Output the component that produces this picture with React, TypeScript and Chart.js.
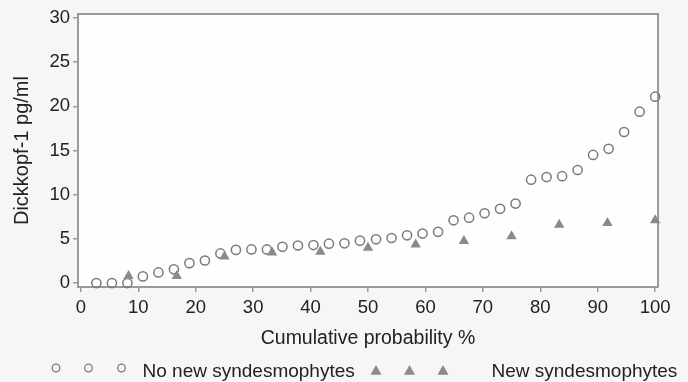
import React, { useEffect, useRef } from "react";
import { Chart, registerables } from "chart.js";

Chart.register(...registerables);

// ---- data ----
const noNewX = [
  2.7, 5.4, 8.1, 10.8, 13.5, 16.2, 18.9, 21.6, 24.3, 27.0, 29.7, 32.4, 35.1,
  37.8, 40.5, 43.2, 45.9, 48.6, 51.4, 54.1, 56.8, 59.5, 62.2, 64.9, 67.6, 70.3,
  73.0, 75.7, 78.4, 81.1, 83.8, 86.5, 89.2, 91.9, 94.6, 97.3, 100,
];
const noNewY = [
  0, 0, 0, 0.75, 1.2, 1.55, 2.25, 2.55, 3.35, 3.75, 3.8, 3.8, 4.1, 4.25, 4.3,
  4.45, 4.5, 4.8, 4.95, 5.1, 5.4, 5.6, 5.8, 7.1, 7.4, 7.9, 8.4, 9.0, 11.7, 12.0,
  12.1, 12.8, 14.5, 15.2, 17.1, 19.4, 21.1,
];
const newX = [8.3, 16.7, 25, 33.3, 41.7, 50, 58.3, 66.7, 75, 83.3, 91.7, 100];
const newY = [0.8, 0.8, 3.0, 3.45, 3.55, 4.0, 4.35, 4.75, 5.3, 6.6, 6.8, 7.1];

const xTickValues = [0, 10, 20, 30, 40, 50, 60, 70, 80, 90, 100];
const yTickValues = [0, 5, 10, 15, 20, 25, 30];

const seriesLabels = ["No new syndesmophytes", "New syndesmophytes"];
const xTitle = "Cumulative probability %";
const yTitle = "Dickkopf-1 pg/ml";

// ---- styles ----
const FONT = '"Liberation Sans", Arial, Helvetica, sans-serif';
const AXIS = "#9a9a9a";
const CIRCLE = "#7a7a7a";
const TRI = "#8a8a8a";
const TEXT = "#222222";

function drawCircle(ctx: CanvasRenderingContext2D, x: number, y: number, r: number) {
  ctx.beginPath();
  ctx.arc(x, y, r, 0, Math.PI * 2);
  ctx.stroke();
}
function drawTriangle(ctx: CanvasRenderingContext2D, x: number, y: number, r: number) {
  ctx.beginPath();
  for (let k = 0; k < 3; k++) {
    const a = (k * 2 * Math.PI) / 3;
    const px = x + Math.sin(a) * r;
    const py = y - Math.cos(a) * r;
    if (k === 0) ctx.moveTo(px, py);
    else ctx.lineTo(px, py);
  }
  ctx.closePath();
  ctx.fill();
}

const framePlugin = {
  id: "frame",
  beforeDraw(chart: any) {
    const { ctx, width, height, chartArea: a } = chart;
    ctx.save();
    ctx.fillStyle = "#f6f6f6";
    ctx.fillRect(0, 0, width, height);
    ctx.fillStyle = "#fefefe";
    ctx.fillRect(a.left, a.top, a.right - a.left, a.bottom - a.top);
    ctx.restore();
  },
  beforeDatasetsDraw(chart: any) {
    const { ctx, chartArea: a } = chart;
    ctx.save();
    ctx.strokeStyle = AXIS;
    ctx.lineWidth = 2;
    ctx.beginPath();
    ctx.moveTo(a.left, a.top);
    ctx.lineTo(a.right, a.top);
    ctx.lineTo(a.right, a.bottom);
    ctx.stroke();
    ctx.restore();
  },
  afterDraw(chart: any) {
    const { ctx } = chart;
    ctx.save();
    // legend markers
    ctx.strokeStyle = CIRCLE;
    ctx.lineWidth = 1.3;
    [56, 88.5, 121.5].forEach((x) => drawCircle(ctx, x, 368, 3.8));
    ctx.fillStyle = TRI;
    [376, 409.5, 443].forEach((x) => drawTriangle(ctx, x, 371.5, 6.4));
    // legend text
    ctx.fillStyle = TEXT;
    ctx.font = `19px ${FONT}`;
    ctx.textAlign = "left";
    ctx.textBaseline = "alphabetic";
    ctx.fillText(seriesLabels[0], 142.5, 377);
    ctx.fillText(seriesLabels[1], 491.5, 377);
    ctx.restore();
  },
};

export default function App() {
  const ref = useRef<HTMLCanvasElement | null>(null);

  useEffect(() => {
    if (!ref.current) return;
    const chart = new Chart(ref.current, {
      type: "scatter",
      data: {
        datasets: [
          {
            label: seriesLabels[0],
            data: noNewX.map((x, i) => ({ x, y: noNewY[i] })),
            pointStyle: "circle",
            pointRadius: 4.6,
            borderColor: CIRCLE,
            backgroundColor: "rgba(0,0,0,0)",
            borderWidth: 1.5,
            clip: false,
            order: 1,
          },
          {
            label: seriesLabels[1],
            data: newX.map((x, i) => ({ x, y: newY[i] })),
            pointStyle: "triangle",
            pointRadius: 6,
            borderColor: TRI,
            backgroundColor: TRI,
            borderWidth: 0,
            clip: false,
            order: 0,
          },
        ],
      } as any,
      options: {
        animation: false,
        responsive: false,
        devicePixelRatio: 1,
        layout: { padding: { top: 14, right: 30, left: 0, bottom: 0 } },
        plugins: { legend: { display: false }, tooltip: { enabled: false } },
        scales: {
          x: {
            type: "linear",
            min: -0.5,
            max: 100.5,
            afterBuildTicks: (s: any) => {
              s.ticks = xTickValues.map((v) => ({ value: v }));
            },
            afterFit: (s: any) => {
              s.height = 95;
            },
            grid: {
              drawOnChartArea: false,
              drawTicks: true,
              tickLength: 5,
              color: AXIS,
              lineWidth: 1.5,
            },
            border: { display: true, color: AXIS, width: 2 },
            ticks: {
              color: TEXT,
              font: { family: FONT, size: 18.5 },
              padding: 5,
              maxRotation: 0,
              autoSkip: false,
            },
            title: {
              display: true,
              text: xTitle,
              color: TEXT,
              font: { family: FONT, size: 19.5 },
              padding: { top: 0, bottom: 32 },
            },
          },
          y: {
            type: "linear",
            min: -0.45,
            max: 30.45,
            afterBuildTicks: (s: any) => {
              s.ticks = yTickValues.map((v) => ({ value: v }));
            },
            afterFit: (s: any) => {
              s.width = 78;
            },
            grid: {
              drawOnChartArea: false,
              drawTicks: true,
              tickLength: 5,
              color: AXIS,
              lineWidth: 1.5,
            },
            border: { display: true, color: AXIS, width: 2 },
            ticks: {
              color: TEXT,
              font: { family: FONT, size: 18.5 },
              padding: 3,
              autoSkip: false,
            },
            title: {
              display: true,
              text: yTitle,
              color: TEXT,
              font: { family: FONT, size: 20 },
              padding: { top: 10, bottom: 0 },
            },
          },
        },
      } as any,
      plugins: [framePlugin],
    });
    return () => chart.destroy();
  }, []);

  return (
    <div style={{ position: "absolute", left: 0, top: 0, width: 688, height: 382 }}>
      <canvas ref={ref} width={688} height={382} style={{ display: "block", width: 688, height: 382 }} />
    </div>
  );
}
